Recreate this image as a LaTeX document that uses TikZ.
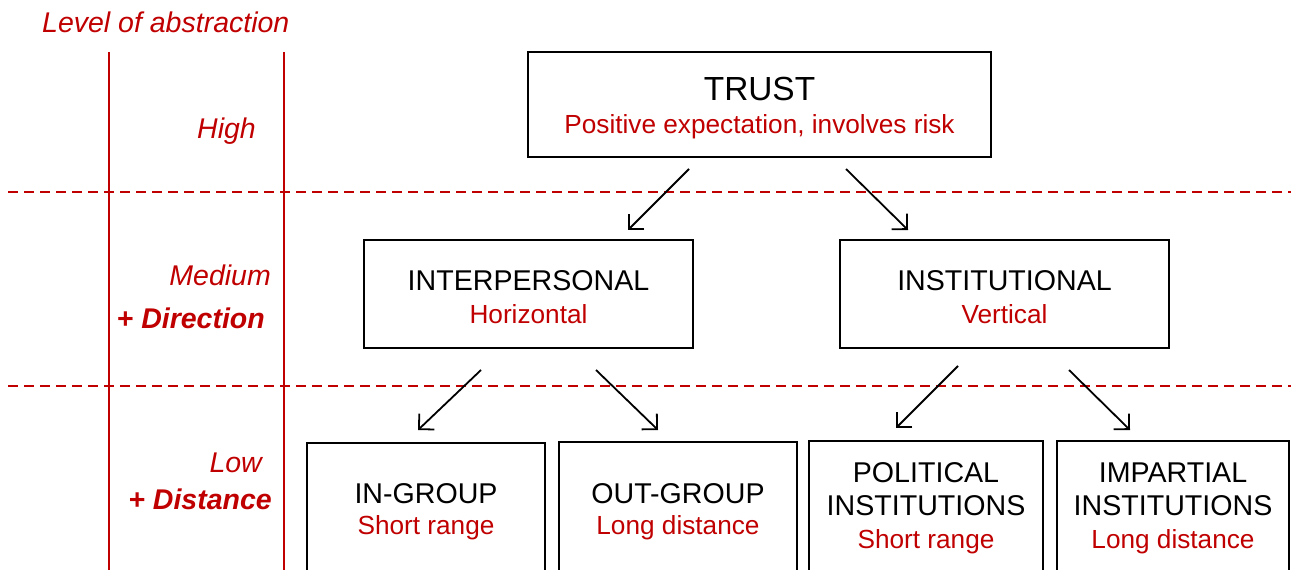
\documentclass[tikz,border=0pt]{standalone}
\usepackage{fontspec}
\setmainfont{Liberation Sans}
\usetikzlibrary{arrows.meta}
\definecolor{dred}{RGB}{192,0,0}
\newcommand{\subtxt}[1]{{\color{dred}\fontsize{26.2}{33}\selectfont #1}}
\begin{document}
\begin{tikzpicture}[x=1pt,y=-1pt,
  box/.style={draw=black,line width=2.3pt,align=center,inner sep=0pt,
    font=\fontsize{28.6}{33}\selectfont},
  arr/.style={-{Straight Barb[length=11pt,width=22pt]},line width=1.8pt},
  redline/.style={draw=dred,line width=2.3pt},
  levelsep/.style={draw=dred,line width=2.2pt,dash pattern=on 10pt off 6pt},
  lvl/.style={text=dred,anchor=base east,inner sep=0pt,font=\fontsize{28.5}{33}\selectfont\itshape},
  lvlb/.style={lvl,font=\fontsize{28.5}{33}\selectfont\bfseries\itshape}]
\useasboundingbox (0,0) rectangle (1291,570);
\clip (0,0) rectangle (1291,570);

% level separators and columns
\draw[levelsep] (8,192) -- (1291,192);
\draw[levelsep] (8,386) -- (1291,386);
\draw[redline] (109,52) -- (109,575);
\draw[redline] (284,52) -- (284,575);

\node[text=dred,anchor=base west,inner sep=0pt,font=\fontsize{28.5}{33}\selectfont\itshape] (title) at (42,32) {Level of abstraction};
\node[lvl] (high) at (256,138) {High};
\node[lvl] (medium) at (271,285) {Medium};
\node[lvlb] (dir) at (265,328) {+ Direction};
\node[lvl] (low) at (262,472) {Low};
\node[lvlb] (dist) at (272,509) {+ Distance};

% boxes
\node[box,minimum width=463pt,minimum height=105pt] (trust) at (759.5,104.5)
  {\rule{0pt}{30pt}{\fontsize{33.4}{33}\selectfont TRUST}\\[0pt]\subtxt{Positive expectation, involves risk}};
\node[box,minimum width=329pt,minimum height=108pt] (inter) at (528.5,294)
  {\rule{0pt}{26pt}INTERPERSONAL\\\subtxt{Horizontal}};
\node[box,minimum width=329pt,minimum height=108pt] (inst) at (1004.5,294)
  {\rule{0pt}{26pt}INSTITUTIONAL\\\subtxt{Vertical}};
\node[box,minimum width=238pt,minimum height=130pt] (ingroup) at (426,508)
  {\rule{0pt}{28pt}IN-GROUP\\[-2pt]\subtxt{Short range}};
\node[box,minimum width=238pt,minimum height=132pt] (outgroup) at (678,508)
  {\rule{0pt}{28pt}OUT-GROUP\\[-2pt]\subtxt{Long distance}};
\node[box,minimum width=234pt,minimum height=134pt] (political) at (926,508)
  {POLITICAL\\INSTITUTIONS\\\subtxt{Short range}};
\node[box,minimum width=232pt,minimum height=134pt] (impartial) at (1173,508)
  {IMPARTIAL\\INSTITUTIONS\\\subtxt{Long distance}};

% arrow end points
\coordinate (a1s) at (689,169); \coordinate (a1e) at (628,230);
\coordinate (a2s) at (846,169); \coordinate (a2e) at (908,230);
\coordinate (a3s) at (481,370); \coordinate (a3e) at (418,430);
\coordinate (a4s) at (596,370); \coordinate (a4e) at (658,430);
\coordinate (a5s) at (958,366); \coordinate (a5e) at (896,428);
\coordinate (a6s) at (1069,370); \coordinate (a6e) at (1130,430);
\draw[arr] (a1s) -- (a1e);
\draw[arr] (a2s) -- (a2e);
\draw[arr] (a3s) -- (a3e);
\draw[arr] (a4s) -- (a4e);
\draw[arr] (a5s) -- (a5e);
\draw[arr] (a6s) -- (a6e);
\end{tikzpicture}
\end{document}
